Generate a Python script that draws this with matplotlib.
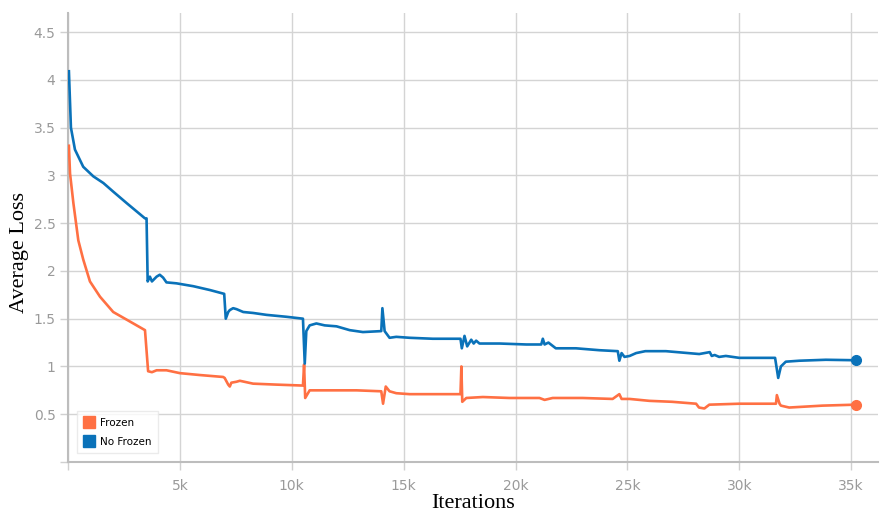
import numpy as np
import matplotlib.pyplot as plt

# iterations in thousands, loss values
nf_x = [0.04, 0.13, 0.31, 0.68, 1.13, 1.58, 2.02, 2.62, 3.44, 3.51, 3.56, 3.66, 3.75, 3.96, 4.1, 4.25,
        4.4, 4.85, 5.6, 6.34, 6.98, 7.05, 7.16, 7.23, 7.38, 7.53, 7.83, 8.27, 8.87, 9.76, 10.5, 10.58,
        10.65, 10.8, 11.1, 11.47, 12.0, 12.59, 13.18, 14.0, 14.05, 14.15, 14.37, 14.67, 15.27, 16.3,
        17.54, 17.6, 17.72, 17.84, 18.02, 18.13, 18.24, 18.39, 19.29, 20.48, 21.15, 21.22, 21.3, 21.47,
        21.8, 22.7, 23.75, 24.57, 24.64, 24.74, 24.87, 25.1, 25.39, 25.8, 26.72, 28.21, 28.68, 28.77,
        28.9, 29.1, 29.4, 30.0, 31.6, 31.74, 31.86, 32.08, 32.68, 33.87, 35.2]
nf_y = [4.09, 3.5, 3.27, 3.09, 2.99, 2.92, 2.83, 2.71, 2.55, 2.55, 1.89, 1.94, 1.89, 1.94, 1.96, 1.93,
        1.88, 1.87, 1.84, 1.80, 1.76, 1.50, 1.57, 1.59, 1.61, 1.60, 1.57, 1.56, 1.54, 1.52, 1.50, 1.03,
        1.37, 1.43, 1.45, 1.43, 1.42, 1.38, 1.36, 1.37, 1.61, 1.37, 1.30, 1.31, 1.30, 1.29,
        1.29, 1.19, 1.32, 1.21, 1.28, 1.24, 1.27, 1.24, 1.24, 1.23, 1.23, 1.29, 1.23, 1.25,
        1.19, 1.19, 1.17, 1.16, 1.06, 1.14, 1.10, 1.11, 1.14, 1.16, 1.16, 1.13, 1.15, 1.11,
        1.12, 1.10, 1.11, 1.09, 1.09, 0.88, 1.00, 1.05, 1.06, 1.07, 1.065]

fr_x = [0.04, 0.09, 0.24, 0.46, 0.68, 0.98, 1.43, 2.02, 2.62, 3.44, 3.58, 3.75, 3.96, 4.4, 5.0, 5.9,
        6.93, 7.0, 7.16, 7.23, 7.3, 7.53, 7.68, 8.27, 9.3, 10.5, 10.55, 10.6, 10.8, 11.4, 12.9, 14.0,
        14.08, 14.2, 14.37, 14.67, 15.27, 17.54, 17.58, 17.62, 17.8, 18.54, 19.73, 21.07, 21.3, 21.66,
        23.0, 24.34, 24.64, 24.74, 25.1, 25.98, 27.0, 28.07, 28.2, 28.44, 28.66, 30.0, 31.64, 31.68,
        31.8, 31.86, 32.23, 33.72, 35.2]
fr_y = [3.31, 3.02, 2.71, 2.32, 2.12, 1.89, 1.73, 1.57, 1.49, 1.38, 0.95, 0.94, 0.96, 0.96, 0.93, 0.91,
        0.89, 0.88, 0.81, 0.79, 0.83, 0.84, 0.85, 0.82, 0.81, 0.80, 1.02, 0.67, 0.75, 0.75, 0.75, 0.74,
        0.61, 0.79, 0.74, 0.72, 0.71, 0.71, 1.00, 0.63, 0.67, 0.68, 0.67, 0.67, 0.65, 0.67,
        0.67, 0.66, 0.71, 0.66, 0.66, 0.64, 0.63, 0.61, 0.57, 0.56, 0.60, 0.61, 0.61, 0.70,
        0.61, 0.59, 0.57, 0.59, 0.60]

xticks = [5, 10, 15, 20, 25, 30, 35]
xtick_labels = ['5k', '10k', '15k', '20k', '25k', '30k', '35k']
yticks = [0.5, 1, 1.5, 2, 2.5, 3, 3.5, 4, 4.5]
ytick_labels = ['0.5', '1', '1.5', '2', '2.5', '3', '3.5', '4', '4.5']

orange = '#ff7043'
blue = '#0a72b9'

fig = plt.figure(figsize=(8.81, 5.17), dpi=100)
ax = fig.add_axes([0.0772, 0.1064, 0.9194, 0.8685])

ax.plot(fr_x, fr_y, color=orange, lw=1.9, label='Frozen', zorder=3)
ax.plot(nf_x, nf_y, color=blue, lw=1.9, label='No Frozen', zorder=3)
ax.plot(fr_x[-1], fr_y[-1], 'o', color=orange, ms=7, zorder=4)
ax.plot(nf_x[-1], nf_y[-1], 'o', color=blue, ms=7, zorder=4)

ax.set_xlim(0, 36.2)
ax.set_ylim(0, 4.7)
ax.set_xticks([0] + xticks)
ax.set_xticklabels([''] + xtick_labels)
ax.set_yticks([0] + yticks)
ax.set_yticklabels([''] + ytick_labels)

ax.grid(True, color='#d4d4d4', lw=1)
ax.set_axisbelow(True)
ax.tick_params(axis='both', colors='#d0d0d0', labelcolor='#9a9a9a', labelsize=10, length=6, width=1)
ax.tick_params(axis='y', pad=3)
ax.tick_params(axis='x', pad=6)
for s in ['top', 'right']:
    ax.spines[s].set_visible(False)
for s in ['left', 'bottom']:
    ax.spines[s].set_color('#bdbdbd')
    ax.spines[s].set_linewidth(1.5)

ax.set_xlabel('Iterations', family='Liberation Serif', fontsize=16)
ax.set_ylabel('Average Loss', family='Liberation Serif', fontsize=16)
ax.xaxis.set_label_coords(0.5, -0.071)
ax.yaxis.set_label_coords(-0.048, 0.467)

h1 = plt.Line2D([], [], ls='none', marker='s', ms=9, color=orange)
h2 = plt.Line2D([], [], ls='none', marker='s', ms=9, color=blue)
leg = ax.legend([h1, h2], ['Frozen', 'No Frozen'], loc='lower left', bbox_to_anchor=(0.005, 0.008),
                fontsize=7.5, frameon=True, fancybox=False, edgecolor='#e6e6e6',
                handlelength=1, handletextpad=0.6, borderpad=0.6, labelspacing=0.9)
leg.get_frame().set_linewidth(1)

fig.savefig('out.png', dpi=100)
